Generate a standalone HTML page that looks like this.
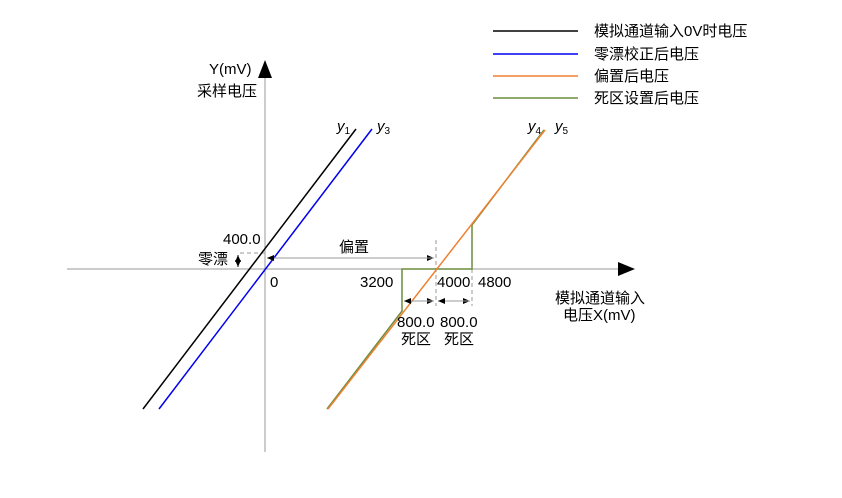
<!DOCTYPE html>
<html><head><meta charset="utf-8"><style>
html,body{margin:0;padding:0;background:#fff;}
svg{display:block;}
text{font-family:"Liberation Sans","Noto Sans CJK SC",sans-serif;font-size:15px;fill:#000;}
</style></head><body>
<svg width="842" height="498" viewBox="0 0 842 498" xmlns="http://www.w3.org/2000/svg">
<defs>
<marker id="a" markerWidth="8" markerHeight="8" refX="7" refY="4" orient="auto" markerUnits="userSpaceOnUse"><path d="M0,1 L7,4 L0,7 Z" fill="#000"/></marker>
</defs>
<line x1="265" y1="452" x2="265" y2="75" stroke="#999" stroke-width="1"/>
<path d="M258,78 L265,60 L272,78 Z" fill="#000"/>
<line x1="67" y1="269" x2="620" y2="269" stroke="#999" stroke-width="1"/>
<path d="M618,262 L635,269 L618,276 Z" fill="#000"/>
<line x1="240" y1="253" x2="265" y2="253" stroke="#999" stroke-dasharray="4,3"/>
<line x1="436" y1="240" x2="436" y2="306" stroke="#999" stroke-dasharray="4,3"/>
<line x1="472" y1="269" x2="472" y2="306" stroke="#999" stroke-dasharray="4,3"/>
<line x1="143" y1="409" x2="356" y2="129" stroke="#000" stroke-width="1.5"/>
<line x1="159" y1="409" x2="372" y2="129" stroke="#0000ee" stroke-width="1.5"/>
<polyline points="327,409 402,311 402,269 472,269 472,225 544,130" fill="none" stroke="#6b8e3f" stroke-width="1.5"/>
<line x1="328" y1="409" x2="545" y2="130" stroke="#f08030" stroke-width="1.5"/>
<line x1="238" y1="255" x2="238" y2="267" stroke="#000" marker-end="url(#a)"/>
<line x1="238" y1="267" x2="238" y2="255" stroke="#000" marker-end="url(#a)"/>
<line x1="267" y1="258" x2="434" y2="258" stroke="#999" marker-end="url(#a)"/>
<line x1="434" y1="258" x2="267" y2="258" stroke="#999" marker-end="url(#a)"/>
<line x1="404" y1="301" x2="434" y2="301" stroke="#999" marker-end="url(#a)"/>
<line x1="434" y1="301" x2="404" y2="301" stroke="#999" marker-end="url(#a)"/>
<line x1="438" y1="301" x2="470" y2="301" stroke="#999" marker-end="url(#a)"/>
<line x1="470" y1="301" x2="438" y2="301" stroke="#999" marker-end="url(#a)"/>
<text x="209" y="74">Y(mV)</text>
<text x="197" y="96">采样电压</text>
<text x="223" y="244">400.0</text>
<text x="198" y="264">零漂</text>
<text x="339" y="252">偏置</text>
<text x="270" y="287">0</text>
<text x="360" y="287">3200</text>
<text x="437" y="287">4000</text>
<text x="478" y="287">4800</text>
<text x="397" y="327">800.0</text>
<text x="401" y="344">死区</text>
<text x="440" y="327">800.0</text>
<text x="444" y="344">死区</text>
<text x="555" y="303">模拟通道输入</text>
<text x="563" y="320">电压X(mV)</text>
<text x="337" y="131" font-style="italic">y<tspan font-size="10" font-style="normal" dy="3">1</tspan></text>
<text x="377" y="131" font-style="italic">y<tspan font-size="10" font-style="normal" dy="3">3</tspan></text>
<text x="528" y="131" font-style="italic">y<tspan font-size="10" font-style="normal" dy="3">4</tspan></text>
<text x="555" y="131" font-style="italic">y<tspan font-size="10" font-style="normal" dy="3">5</tspan></text>
<line x1="493" y1="31" x2="578" y2="31" stroke="#000" stroke-width="1.5"/>
<line x1="493" y1="54" x2="578" y2="54" stroke="#0000ee" stroke-width="1.5"/>
<line x1="493" y1="76" x2="578" y2="76" stroke="#f08030" stroke-width="1.5"/>
<line x1="493" y1="98" x2="578" y2="98" stroke="#6b8e3f" stroke-width="1.5"/>
<text x="594" y="36">模拟通道输入0V时电压</text>
<text x="594" y="59">零漂校正后电压</text>
<text x="594" y="81">偏置后电压</text>
<text x="594" y="103">死区设置后电压</text>
</svg>
</body></html>
